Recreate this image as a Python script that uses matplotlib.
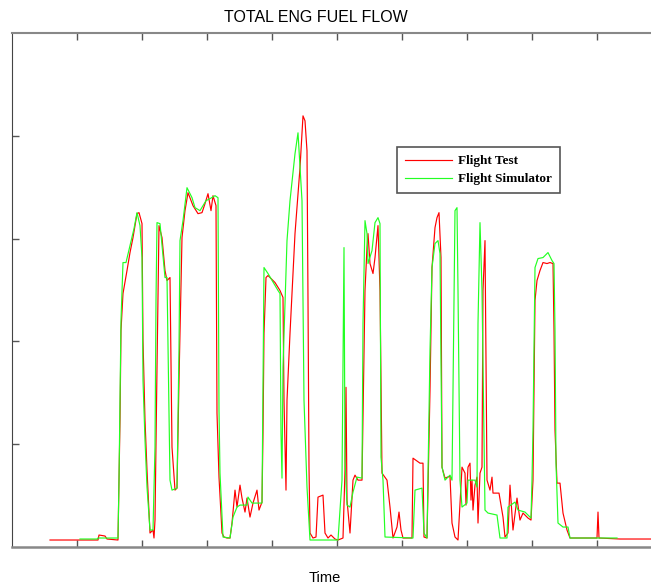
import matplotlib.pyplot as plt

# time in s, total engine fuel flow (arbitrary units)
test_time = [38, 86, 87, 93, 95, 106, 108, 109, 111, 115, 118, 121, 125, 127, 130, 131, 133, 135,
             138, 141, 142, 143, 145, 147, 150, 153, 155, 158, 160, 163, 165, 167, 170, 173, 176,
             181, 186, 190, 193, 196, 199, 201, 204, 205, 207, 210, 212, 215, 218, 220, 223, 225,
             228, 230, 233, 235, 238, 241, 245, 247, 250, 251, 252, 254, 256, 263, 268, 271, 272,
             274, 275, 278, 283, 288, 291, 293, 295, 296, 297, 298, 301, 304, 306, 311, 313, 316,
             319, 323, 326, 331, 333, 334, 335, 338, 341, 343, 346, 350, 353, 355, 356, 358, 361,
             363, 366, 368, 370, 375, 378, 381, 385, 387, 389, 391, 400, 401, 408, 411, 412, 415,
             418, 420, 423, 425, 427, 429, 430, 433, 438, 440, 443, 446, 450, 453, 454, 456, 458,
             459, 460, 461, 463, 465, 466, 468, 470, 471, 473, 474, 475, 478, 480, 481, 487, 491,
             493, 496, 498, 501, 505, 508, 511, 516, 519, 521, 523, 525, 528, 531, 535, 538, 541,
             542, 543, 545, 548, 551, 555, 558, 585, 586, 587, 608, 645]
test_flow = [7, 7, 12, 11, 8, 7, 127, 217, 254, 277, 295, 310, 334, 335, 324, 207, 127, 77,
             14, 17, 9, 27, 180, 322, 310, 277, 267, 270, 100, 57, 59, 167, 310, 337, 355,
             342, 334, 335, 344, 354, 337, 352, 342, 134, 70, 14, 10, 9, 9, 24, 57, 40,
             62, 49, 35, 49, 30, 44, 57, 37, 45, 114, 214, 270, 272, 265, 257, 250, 147,
             57, 147, 214, 314, 380, 432, 427, 397, 247, 80, 14, 9, 10, 50, 52, 14, 9,
             12, 8, 7, 9, 77, 160, 47, 14, 67, 72, 67, 67, 257, 300, 314, 284, 274,
             290, 322, 257, 74, 67, 40, 9, 20, 35, 17, 9, 9, 89, 84, 84, 10, 9,
             157, 280, 320, 330, 335, 290, 80, 69, 71, 24, 10, 7, 80, 74, 42, 80, 84,
             47, 67, 37, 62, 70, 24, 74, 80, 257, 307, 190, 67, 57, 70, 54, 54, 30,
             10, 14, 62, 17, 49, 27, 34, 29, 27, 67, 247, 267, 277, 285, 284, 285, 284,
             217, 117, 64, 64, 34, 17, 9, 9, 35, 9, 8, 8]

sim_time = [68, 85, 86, 106, 107, 108, 109, 111, 114, 118, 122, 125, 128, 130, 131, 133, 135, 138,
            141, 143, 144, 145, 148, 153, 155, 158, 160, 165, 167, 168, 171, 175, 180, 183, 188,
            194, 198, 203, 206, 207, 208, 211, 218, 221, 225, 228, 235, 236, 240, 250, 251, 252,
            256, 266, 268, 269, 270, 271, 275, 278, 283, 286, 290, 292, 295, 298, 326, 330, 332,
            333, 335, 338, 341, 345, 350, 351, 353, 355, 356, 360, 363, 366, 368, 369, 371, 373,
            401, 403, 410, 412, 415, 418, 420, 423, 426, 428, 430, 433, 438, 440, 442, 443, 445,
            446, 448, 450, 455, 456, 463, 465, 466, 468, 470, 473, 476, 485, 488, 495, 496, 503,
            506, 513, 519, 520, 521, 523, 526, 531, 536, 540, 542, 543, 544, 546, 551, 556, 558, 605]
sim_flow = [8, 8, 9, 9, 67, 147, 227, 285, 285, 302, 319, 335, 322, 290, 167, 107, 60, 17,
            17, 100, 247, 325, 324, 270, 270, 67, 57, 59, 200, 307, 327, 360, 350, 340, 337,
            347, 349, 352, 350, 137, 74, 10, 9, 30, 40, 42, 42, 50, 44, 44, 157, 280,
            274, 257, 254, 114, 69, 180, 307, 347, 394, 415, 347, 147, 60, 7, 7, 67, 300,
            87, 42, 40, 55, 70, 69, 224, 327, 314, 284, 297, 325, 330, 324, 90, 67, 10,
            9, 57, 59, 14, 9, 197, 280, 304, 307, 294, 80, 67, 72, 67, 247, 337, 340,
            257, 67, 40, 44, 67, 67, 60, 224, 325, 257, 37, 34, 32, 9, 9, 40, 45,
            37, 35, 29, 67, 117, 280, 289, 290, 295, 287, 284, 217, 84, 24, 20, 20, 9, 9]

fig = plt.figure(figsize=(6.51, 5.88), dpi=100)
ax = fig.add_axes([12 / 651, 41 / 588, 650 / 651, 514 / 588])

ax.plot(test_time, test_flow, color='#ff0000', lw=0.85, label='Flight Test')
ax.plot(sim_time, sim_flow, color='#22ff22', lw=0.85, label='Flight Simulator')

ax.set_xlim(0, 650)
ax.set_ylim(0, 515)
ax.set_xticks(range(65, 650, 65))
ax.set_yticks(range(103, 515, 103))
ax.tick_params(direction='in', length=5, width=1, color='#555555',
               labelbottom=False, labelleft=False, top=True, right=False)
for side in ['left', 'top', 'bottom', 'right']:
    ax.spines[side].set_color('#888888')
ax.spines['left'].set_color('#444444')
ax.spines['bottom'].set_linewidth(1.8)
ax.spines['top'].set_linewidth(1.5)

leg = ax.legend(loc='upper left', bbox_to_anchor=(0.592, 0.778), borderaxespad=0,
                prop={'family': 'Liberation Serif', 'weight': 'bold', 'size': 9.5},
                handlelength=3.6, handletextpad=0.45, labelspacing=0.45,
                borderpad=0.6, fancybox=False, framealpha=1)
leg.get_frame().set_edgecolor('#555555')
leg.get_frame().set_linewidth(1.2)

fig.text(316 / 651, 1 - 18 / 588, 'TOTAL ENG FUEL FLOW', ha='center', va='center',
         fontsize=11.5, family='Liberation Sans')
fig.text(325 / 651, 1 - 578 / 588, 'Time', ha='center', va='center',
         fontsize=10.5, family='Liberation Sans')

fig.savefig('out.png', dpi=100)
